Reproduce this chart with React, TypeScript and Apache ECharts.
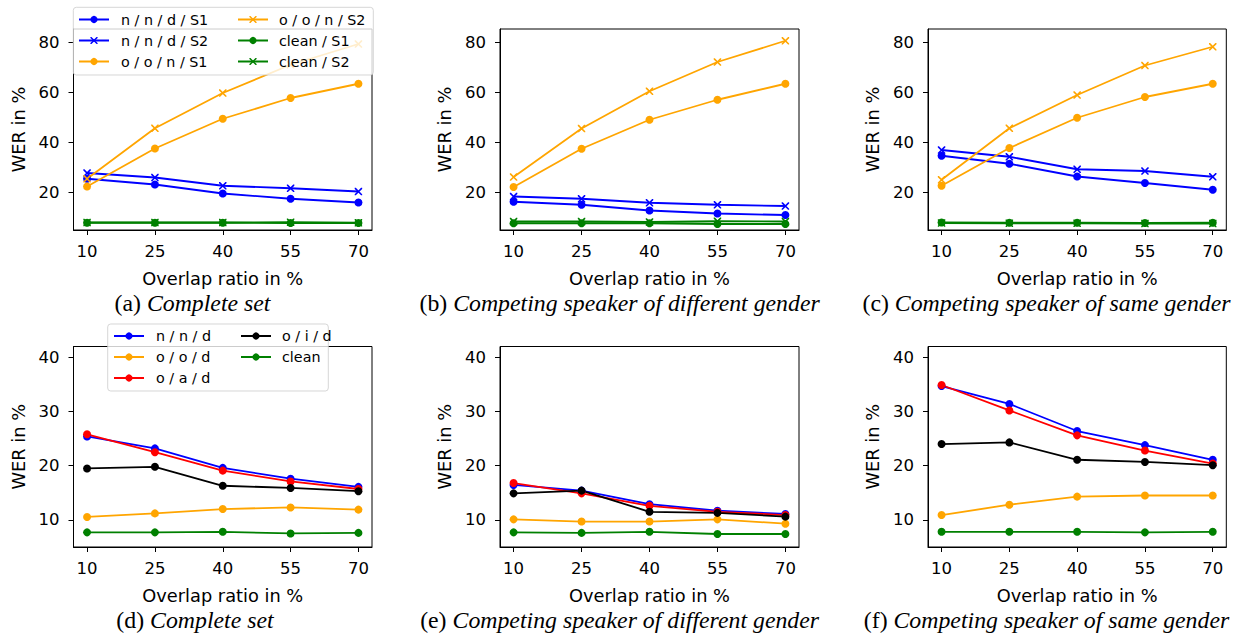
import React, { useEffect, useRef } from 'react';
import * as echarts from 'echarts';

// ---------- data ----------
const overlapRatios = [10, 25, 40, 55, 70];
const yTicksTop = [20, 40, 60, 80];
const yTicksBottom = [10, 20, 30, 40];

const topNames = ['n / n / d / S1', 'n / n / d / S2', 'o / o / n / S1', 'o / o / n / S2', 'clean / S1', 'clean / S2'];
const bottomNames = ['n / n / d', 'o / o / d', 'o / a / d', 'o / i / d', 'clean'];

// (a) Complete set
const a_nnd_S1 = [25.5, 23.2, 19.6, 17.5, 16.0];
const a_nnd_S2 = [27.8, 26.0, 22.7, 21.7, 20.4];
const a_oon_S1 = [22.4, 37.6, 49.5, 57.8, 63.5];
const a_oon_S2 = [25.5, 45.7, 59.8, 71.1, 79.4];
const a_clean_S1 = [7.9, 7.9, 7.9, 7.8, 7.8];
const a_clean_S2 = [8.0, 8.0, 8.0, 8.1, 7.9];
// (b) different gender
const b_nnd_S1 = [16.3, 15.1, 12.8, 11.6, 11.0];
const b_nnd_S2 = [18.4, 17.5, 15.9, 15.1, 14.6];
const b_oon_S1 = [22.2, 37.5, 49.1, 57.1, 63.5];
const b_oon_S2 = [26.2, 45.6, 60.5, 72.2, 80.7];
const b_clean_S1 = [7.7, 7.7, 7.7, 7.4, 7.4];
const b_clean_S2 = [8.4, 8.4, 8.2, 8.5, 8.4];
// (c) same gender
const c_nnd_S1 = [34.7, 31.5, 26.4, 23.8, 21.1];
const c_nnd_S2 = [37.0, 34.3, 29.3, 28.6, 26.3];
const c_oon_S1 = [22.7, 37.8, 49.9, 58.2, 63.5];
const c_oon_S2 = [25.1, 45.7, 59.0, 70.8, 78.3];
const c_clean_S1 = [8.0, 7.9, 7.9, 7.8, 7.9];
const c_clean_S2 = [7.8, 7.7, 7.7, 7.6, 7.6];
// (d) Complete set
const d_nnd = [25.4, 23.2, 19.6, 17.6, 16.1];
const d_ood = [10.55, 11.2, 12.0, 12.3, 11.9];
const d_oad = [25.8, 22.5, 19.1, 17.1, 15.7];
const d_oid = [19.5, 19.8, 16.3, 15.9, 15.3];
const d_clean = [7.7, 7.7, 7.8, 7.5, 7.6];
// (e) different gender
const e_nnd = [16.45, 15.4, 12.9, 11.7, 11.1];
const e_ood = [10.1, 9.7, 9.7, 10.1, 9.3];
const e_oad = [16.8, 14.9, 12.6, 11.5, 10.9];
const e_oid = [14.9, 15.4, 11.5, 11.3, 10.6];
const e_clean = [7.7, 7.6, 7.8, 7.4, 7.4];
// (f) same gender
const f_nnd = [34.7, 31.4, 26.4, 23.8, 21.1];
const f_ood = [10.9, 12.8, 14.3, 14.5, 14.5];
const f_oad = [34.9, 30.2, 25.6, 22.8, 20.4];
const f_oid = [24.0, 24.3, 21.1, 20.7, 20.1];
const f_clean = [7.8, 7.8, 7.8, 7.7, 7.8];

const captionLabels = ['(a)', '(b)', '(c)', '(d)', '(e)', '(f)'];
const captionTexts = [
  'Complete set',
  'Competing speaker of different gender',
  'Competing speaker of same gender',
  'Complete set',
  'Competing speaker of different gender',
  'Competing speaker of same gender',
];
const xName = 'Overlap ratio in %';
const yName = 'WER in %';

// ---------- styling ----------
const BLUE = '#0000ff';
const ORANGE = '#ffa500';
const GREEN = '#008000';
const RED = '#ff0000';
const BLACK = '#000000';
const SANS = 'DejaVu Sans';
const SERIF = 'Liberation Serif';
const CAP_SIZE = 23.8;

const X_MARK =
  'path://M1.5,0L10,8.5L10,10L8.5,10L0,1.5L0,0ZM8.5,0L10,0L10,1.5L1.5,10L0,10L0,8.5Z';

const gridBoxes = [
  { left: 73.5, top: 29, width: 298.5, height: 201 },
  { left: 500, top: 29, width: 299, height: 201 },
  { left: 928, top: 29, width: 298.3, height: 201 },
  { left: 73.5, top: 346.5, width: 298.5, height: 200.5 },
  { left: 500, top: 346.5, width: 299, height: 200.5 },
  { left: 928, top: 346.5, width: 298.3, height: 200.5 },
];
const captionPos = [
  [192.5, 303],
  [619.6, 303],
  [1046.5, 303],
  [195, 620],
  [619.6, 620],
  [1046.5, 620],
];

function pairs(vals: number[]) {
  return overlapRatios.map((x, i) => [x, vals[i]]);
}

function mk(name: string, vals: number[], idx: number, color: string, marker: 'o' | 'x') {
  return {
    type: 'line',
    name,
    xAxisIndex: idx,
    yAxisIndex: idx,
    data: pairs(vals),
    symbol: marker === 'o' ? 'circle' : X_MARK,
    symbolSize: marker === 'o' ? 8 : 7.5,
    showSymbol: true,
    lineStyle: { color, width: 1.8 },
    itemStyle: { color, borderWidth: 0 },
    emphasis: { disabled: true },
    z: 2,
  };
}

function buildOption() {
  const topSets = [
    [a_nnd_S1, a_nnd_S2, a_oon_S1, a_oon_S2, a_clean_S1, a_clean_S2],
    [b_nnd_S1, b_nnd_S2, b_oon_S1, b_oon_S2, b_clean_S1, b_clean_S2],
    [c_nnd_S1, c_nnd_S2, c_oon_S1, c_oon_S2, c_clean_S1, c_clean_S2],
  ];
  const topColors = [BLUE, BLUE, ORANGE, ORANGE, GREEN, GREEN];
  const topMarkers: ('o' | 'x')[] = ['o', 'x', 'o', 'x', 'o', 'x'];
  const bottomSets = [
    [d_nnd, d_ood, d_oad, d_oid, d_clean],
    [e_nnd, e_ood, e_oad, e_oid, e_clean],
    [f_nnd, f_ood, f_oad, f_oid, f_clean],
  ];
  const bottomColors = [BLUE, ORANGE, RED, BLACK, GREEN];

  const series: any[] = [];
  topSets.forEach((set, p) => {
    set.forEach((vals, k) => series.push(mk(topNames[k], vals, p, topColors[k], topMarkers[k])));
  });
  bottomSets.forEach((set, p) => {
    set.forEach((vals, k) => series.push(mk(bottomNames[k], vals, p + 3, bottomColors[k], 'o')));
  });

  const grid = gridBoxes.map((g) => ({
    ...g,
    show: true,
    borderColor: '#000',
    borderWidth: 1,
    backgroundColor: 'transparent',
    containLabel: false,
  }));

  const xAxis = gridBoxes.map((_, i) => ({
    type: 'value',
    gridIndex: i,
    min: 7,
    max: 73,
    name: xName,
    nameLocation: 'middle',
    nameGap: 39.5,
    nameTextStyle: { fontFamily: SANS, fontSize: 17.8, color: '#000' },
    axisLine: { show: true, onZero: false, lineStyle: { color: '#000', width: 1 } },
    axisTick: { show: true, inside: false, length: 5, lineStyle: { color: '#000', width: 1 }, customValues: overlapRatios },
    axisLabel: { show: true, margin: 13, fontFamily: SANS, fontSize: 16.5, color: '#000', customValues: overlapRatios },
    splitLine: { show: false },
  }));

  const yAxis = gridBoxes.map((_, i) => {
    const top = i < 3;
    const ticks = top ? yTicksTop : yTicksBottom;
    return {
      type: 'value',
      gridIndex: i,
      min: 5,
      max: top ? 85.4 : 42,
      name: yName,
      nameLocation: 'middle',
      nameGap: 46.5,
      nameRotate: 90,
      nameTextStyle: { fontFamily: SANS, fontSize: 17.8, color: '#000' },
      axisLine: { show: true, onZero: false, lineStyle: { color: '#000', width: 1 } },
      axisTick: { show: true, inside: false, length: 5, lineStyle: { color: '#000', width: 1 }, customValues: ticks },
      axisLabel: { show: true, margin: 14, fontFamily: SANS, fontSize: 16.5, color: '#000', customValues: ticks },
      splitLine: { show: false },
    };
  });

  const legendText = (pad: number) => ({
    fontFamily: SANS,
    fontSize: 14.3,
    color: '#000',
    padding: [0, 0, 0, pad],
  });
  const legendBase = {
    orient: 'vertical',
    itemWidth: 30,
    itemHeight: 9,
    itemGap: 7,
    padding: 0,
    selectedMode: false,
    z: 5,
  };
  const legend = [
    { ...legendBase, left: 78, top: 12.5, data: topNames.slice(0, 3), textStyle: legendText(7) },
    { ...legendBase, left: 237, top: 12.5, data: topNames.slice(3, 6), textStyle: legendText(6) },
    { ...legendBase, left: 113, top: 329, data: bottomNames.slice(0, 3), textStyle: legendText(7) },
    { ...legendBase, left: 240, top: 329, data: bottomNames.slice(3, 5), textStyle: legendText(6) },
  ];

  const graphic: any[] = [
    {
      type: 'rect',
      z: 3,
      shape: { x: 73.3, y: 7.3, width: 300, height: 67.7, r: 3 },
      style: { fill: 'rgba(255,255,255,0.8)', stroke: 'rgba(204,204,204,0.8)', lineWidth: 1 },
      silent: true,
    },
    {
      type: 'rect',
      z: 3,
      shape: { x: 107.7, y: 324, width: 220.6, height: 67, r: 3 },
      style: { fill: 'rgba(255,255,255,0.8)', stroke: 'rgba(204,204,204,0.8)', lineWidth: 1 },
      silent: true,
    },
  ];
  captionPos.forEach(([cx, cy], i) => {
    graphic.push({
      type: 'text',
      x: cx,
      y: cy,
      z: 5,
      silent: true,
      style: {
        text: '{u|' + captionLabels[i] + '} {i|' + captionTexts[i] + '}',
        align: 'center',
        verticalAlign: 'middle',
        fill: '#000',
        fontFamily: SERIF,
        fontSize: CAP_SIZE,
        rich: {
          u: { fontFamily: SERIF, fontSize: CAP_SIZE, fill: '#000' },
          i: { fontFamily: SERIF, fontSize: CAP_SIZE, fontStyle: 'italic', fill: '#000' },
        },
      },
    });
  });

  return {
    animation: false,
    backgroundColor: '#ffffff',
    grid,
    xAxis,
    yAxis,
    legend,
    series,
    graphic,
  };
}

export default function App() {
  const ref = useRef<HTMLDivElement>(null);
  useEffect(() => {
    if (!ref.current) return;
    const chart = echarts.init(ref.current, undefined, { renderer: 'svg' });
    chart.setOption(buildOption() as any);
    return () => chart.dispose();
  }, []);
  return (
    <div
      ref={ref}
      style={{ position: 'fixed', left: 0, top: 0, width: 1242, height: 635, background: '#fff' }}
    />
  );
}
